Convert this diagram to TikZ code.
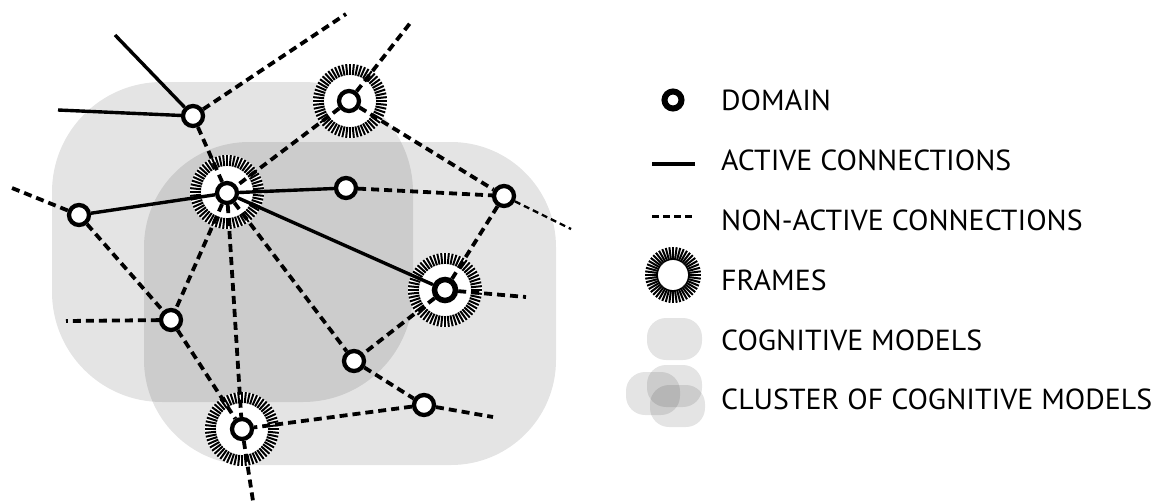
\documentclass[tikz,border=0pt]{standalone}
\usepackage{fontspec}
\setmainfont{PT Sans}
\usepackage{graphicx}
\newlength\clusterw
\tikzset{
  blob/.style={fill=black, fill opacity=0.105, draw=none},
  dom/.style={circle, draw, fill=white, line width=4.3pt, minimum size=20pt, inner sep=0pt},
  bigdom/.style={dom, line width=5.5pt, minimum size=21pt},
  active/.style={line width=3.4pt},
  passive/.style={line width=3.8pt, dash pattern=on 8pt off 5pt},
  thinpassive/.style={line width=2.3pt, dash pattern=on 6pt off 4pt},
  legendtext/.style={anchor=base west, inner sep=0pt, font=\fontsize{29}{34}\selectfont},
  pics/framering/.style={code={
    \fill[white] (0,0) circle (37);
    \foreach \a in {0,6,...,359}
      \draw[line width=2pt] (\a:26) -- (\a:37);
  }},
  pics/legendring/.style={code={
    \foreach \a in {0,7.5,...,359}
      \draw[line width=2pt] (\a:15) -- (\a:28);
  }}
}
\begin{document}
\settowidth\clusterw{\fontsize{29}{34}\selectfont CLUSTER OF COGNITIVE MODELS}%
\pgfmathsetmacro\legxs{431pt/\clusterw}%
\begin{tikzpicture}[x=1pt, y=-1pt]
\useasboundingbox (0,0) rectangle (1157,501);

% cognitive models (overlapping blobs)
\fill[blob, rounded corners=110pt] (52,82) rectangle (413,402);
\fill[blob, rounded corners=105pt] (144,142) rectangle (556,465);

% frames
\pic at (350,101) {framering};
\pic at (227,192) {framering};
\pic at (445,290) {framering};
\pic at (242,429) {framering};

% domains
\node[dom] (a)  at (193,116) {};
\node[dom] (f1) at (349,101) {};
\node[dom] (c)  at (227,193) {};
\node[dom] (d)  at (346,188) {};
\node[dom] (e)  at (504,196) {};
\node[dom] (l)  at (79,215) {};
\node[bigdom] (f3) at (445,290) {};
\node[dom] (g)  at (171,320) {};
\node[dom] (h)  at (354,361) {};
\node[dom] (i)  at (424,405) {};
\node[dom] (f4) at (242,429) {};

% loose ends
\coordinate (aUL) at (115,35);
\coordinate (aL)  at (58,110);
\coordinate (aTR) at (346,14);
\coordinate (f1T) at (411,22);
\coordinate (lL)  at (12,188);
\coordinate (eR)  at (571,229);
\coordinate (gL)  at (66,321);
\coordinate (f3R) at (526,297);
\coordinate (iR)  at (493,417);
\coordinate (f4B) at (253,501);

% active connections
\draw[active] (a) -- (aUL);
\draw[active] (a) -- (aL);
\draw[active] (c) -- (l);
\draw[active] (c) -- (d);
\draw[active] (c) -- (f3);

% non-active connections
\draw[passive] (a) -- (aTR);
\draw[passive] (a) -- (c);
\draw[passive] (f1) -- (f1T);
\draw[passive] (f1) -- (c);
\draw[passive] (f1) -- (e);
\draw[passive] (d) -- (e);
\draw[thinpassive] (e) -- (eR);
\draw[passive] (e) -- (f3);
\draw[passive] (l) -- (lL);
\draw[passive] (l) -- (g);
\draw[passive] (c) -- (g);
\draw[passive] (c) -- (f4);
\draw[passive] (c) -- (h);
\draw[passive] (g) -- (f4);
\draw[passive] (g) -- (gL);
\draw[passive] (f3) -- (f3R);
\draw[passive] (f3) -- (h);
\draw[passive] (h) -- (i);
\draw[passive] (i) -- (iR);
\draw[passive] (i) -- (f4);
\draw[passive] (f4) -- (f4B);

% legend
\node[circle, draw, line width=6pt, minimum size=17pt, inner sep=0pt] (ldomain) at (673,100) {};
\coordinate (lact1) at (652,164);
\coordinate (lact2) at (695,164);
\draw[line width=4pt] (lact1) -- (lact2);
\coordinate (lpas1) at (652,216);
\coordinate (lpas2) at (695,216);
\draw[line width=3pt, dash pattern=on 7pt off 4pt] (lpas1) -- (lpas2);
\pic at (673,275) {legendring};
\fill[blob, rounded corners=19pt] (647,318) rectangle (702,360);
\fill[blob, rounded corners=19pt] (626,372) rectangle (680,415);
\fill[blob, rounded corners=19pt] (647,365) rectangle (702,407);
\fill[blob, rounded corners=19pt] (650,385) rectangle (705,427);

\node[legendtext] (t1) at (721,110) {\scalebox{\legxs}[1]{DOMAIN}};
\node[legendtext] (t2) at (721,170) {\scalebox{\legxs}[1]{ACTIVE CONNECTIONS}};
\node[legendtext] (t3) at (721,230) {\scalebox{\legxs}[1]{NON-ACTIVE CONNECTIONS}};
\node[legendtext] (t4) at (721,290) {\scalebox{\legxs}[1]{FRAMES}};
\node[legendtext] (t5) at (721,350) {\scalebox{\legxs}[1]{COGNITIVE MODELS}};
\node[legendtext] (t6) at (721,409) {\scalebox{\legxs}[1]{CLUSTER OF COGNITIVE MODELS}};
\end{tikzpicture}
\end{document}
